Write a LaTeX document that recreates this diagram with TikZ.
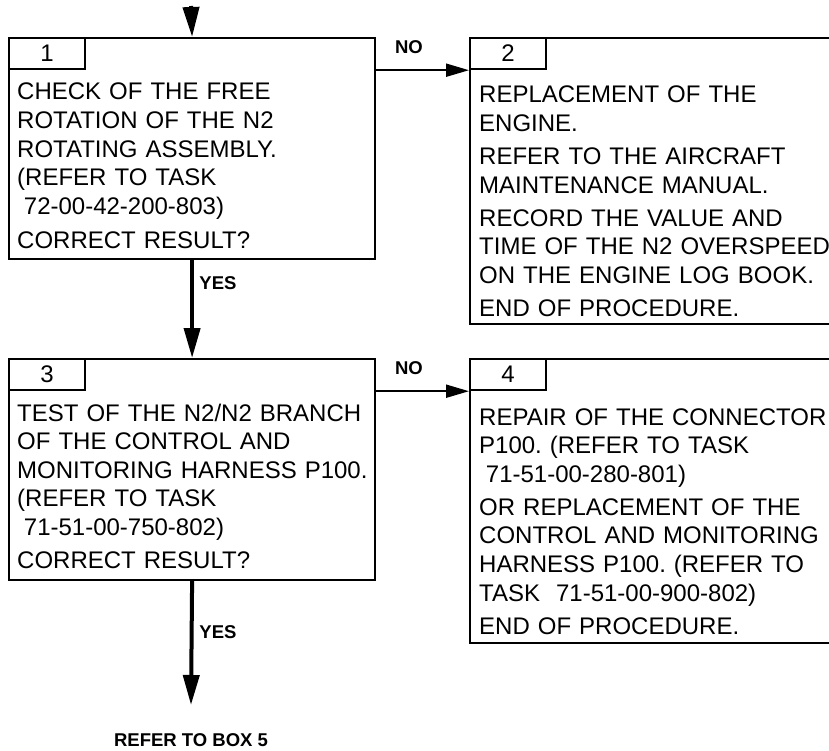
\documentclass[tikz,border=0pt]{standalone}
\usepackage{fontspec}
\setmainfont{Liberation Sans}
\usetikzlibrary{arrows.meta}
\frenchspacing
\tikzset{
  taskbox/.style={draw, line width=2.2pt, anchor=north west, inner sep=0pt},
  numtab/.style={draw, line width=2.2pt, anchor=north west, inner sep=0pt,
    minimum width=76pt, minimum height=31pt, font=\fontsize{24}{28.6}\selectfont},
  tasktext/.style={anchor=base west, inner sep=0pt, text width=400pt, align=left,
    font=\fontsize{24}{28.6}\selectfont},
  lbl/.style={inner sep=0pt, font=\bfseries\fontsize{18.5}{20}\selectfont},
  yesflow/.style={line width=4pt, -{Triangle[length=30pt,width=16pt]}},
  noflow/.style={line width=2pt, -{Triangle[length=23pt,width=13pt]}},
}
\newcommand{\pargap}{\\[4.5pt]}
\newcommand{\ind}{\hspace*{0.28em}}

\begin{document}
\begin{tikzpicture}[x=1pt, y=-1pt]
  \useasboundingbox (0,0) rectangle (829,751);
  \clip (0,0) rectangle (829,751);
  % boxes and number tabs
  \node[taskbox, minimum width=366pt, minimum height=221pt] (b1) at (8,37) {};
  \node[taskbox, minimum width=380pt, minimum height=286pt] (b2) at (469,37) {};
  \node[taskbox, minimum width=366pt, minimum height=221pt] (b3) at (8,358) {};
  \node[taskbox, minimum width=380pt, minimum height=284pt] (b4) at (469,358) {};
  \foreach \b/\n in {b1/1,b2/2,b3/3,b4/4}{\node[numtab] (t\n) at (\b.north west) {\n};}
  % box texts
  \node[tasktext] (x1) at (17,100) {CHECK OF THE FREE\\ROTATION OF THE N2\\ROTATING ASSEMBLY.\\(REFER TO TASK\\\ind 72-00-42-200-803)\\[6pt]CORRECT RESULT?};
  \node[tasktext] (x2) at (479,103) {REPLACEMENT OF THE\\ENGINE.\pargap REFER TO THE AIRCRAFT\\MAINTENANCE MANUAL.\pargap RECORD THE VALUE AND\\TIME OF THE N2 OVERSPEED\\ON THE ENGINE LOG BOOK.\pargap END OF PROCEDURE.};
  \node[tasktext] (x3) at (17,421) {TEST OF THE N2/N2 BRANCH\\OF THE CONTROL AND\\MONITORING HARNESS P100.\\(REFER TO TASK\\\ind 71-51-00-750-802)\pargap CORRECT RESULT?};
  \node[tasktext] (x4) at (479,425) {REPAIR OF THE CONNECTOR\\P100. (REFER TO TASK\\\ind 71-51-00-280-801)\pargap OR REPLACEMENT OF THE\\CONTROL AND MONITORING\\HARNESS P100. (REFER TO\\TASK\ \ 71-51-00-900-802)\pargap END OF PROCEDURE.};
  % flow
  \coordinate (start) at (191,6);
  \coordinate (next) at (191,705);
  \draw[yesflow] (start) -- (b1.north);
  \draw[yesflow] (b1.south) -- (b3.north);
  \draw[yesflow] (b3.south) -- (next);
  \draw[noflow] (t2.south west -| b1.east) -- (t2.south west);
  \draw[noflow] (t4.south west -| b3.east) -- (t4.south west);
  % labels
  \node[lbl] (no1) at (409,47) {NO};
  \node[lbl] (no2) at (409,368) {NO};
  \node[lbl] (yes1) at (218,283) {YES};
  \node[lbl] (yes2) at (218,632) {YES};
  \node[lbl] (box5) at (191,740) {REFER TO BOX 5};
\end{tikzpicture}
\end{document}
